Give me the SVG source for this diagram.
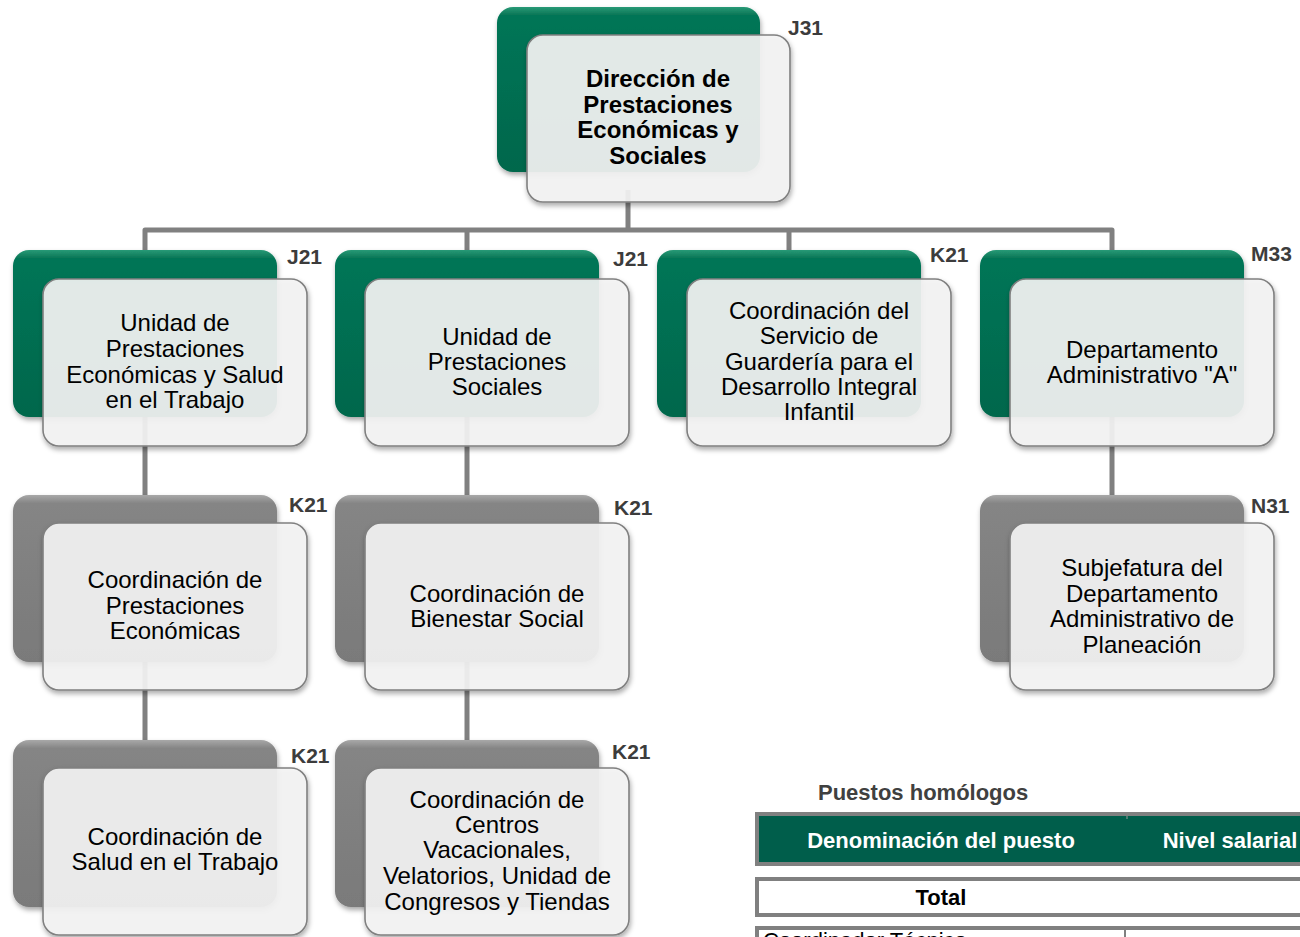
<svg xmlns="http://www.w3.org/2000/svg" width="1300" height="937" viewBox="0 0 1300 937">
<defs>
<linearGradient id="gGreen" x1="0" y1="0" x2="0" y2="1">
<stop offset="0" stop-color="#2a9a76"/>
<stop offset="0.05" stop-color="#067556"/>
<stop offset="1" stop-color="#00674c"/>
</linearGradient>
<linearGradient id="gGray" x1="0" y1="0" x2="0" y2="1">
<stop offset="0" stop-color="#a8a8a8"/>
<stop offset="0.05" stop-color="#858585"/>
<stop offset="1" stop-color="#7a7a7a"/>
</linearGradient>
<filter id="sh" x="-10%" y="-10%" width="125%" height="130%">
<feDropShadow dx="1" dy="3" stdDeviation="2.5" flood-color="#000" flood-opacity="0.35"/>
</filter>
<clipPath id="pageClip"><rect x="0" y="0" width="1300" height="937"/></clipPath>
</defs>
<style>
.back-g{fill:url(#gGreen);filter:url(#sh)}
.back-k{fill:url(#gGray);filter:url(#sh)}
.front{fill:#f4f4f4;fill-opacity:0.91;stroke:#808080;stroke-width:1.6;filter:url(#sh)}
.t{font-family:"Liberation Sans",Arial,sans-serif;font-size:24px;fill:#000;text-anchor:middle}
.tb{font-family:"Liberation Sans",Arial,sans-serif;font-size:24px;font-weight:bold;fill:#000;text-anchor:middle}
.lbl{font-family:"Liberation Sans",Arial,sans-serif;font-size:21px;font-weight:bold;fill:#3c3c3c}
.conn{stroke:#808080;stroke-width:5;fill:none;stroke-linejoin:round}
.th{font-family:"Liberation Sans",Arial,sans-serif;font-size:22px;font-weight:bold;fill:#fff;text-anchor:middle}
</style>
<rect width="1300" height="937" fill="#fff"/>
<g id="connectors">
<path class="conn" d="M628 190 V230 M145 250 V230 H1112 V250 M467 230 V250 M789 230 V250"/>
<path class="conn" d="M145 250 V740 M467 250 V740 M1112 250 V495"/>
</g>
<g id="n0">
<rect class="back-g" x="497" y="7" width="263" height="165" rx="16"/>
<rect class="front" x="527" y="35" width="263" height="167" rx="16"/>
<text class="tb" x="658" y="87">Dirección de</text>
<text class="tb" x="658" y="113">Prestaciones</text>
<text class="tb" x="658" y="138">Económicas y</text>
<text class="tb" x="658" y="164">Sociales</text>
<text class="lbl" x="788" y="35">J31</text>
</g>
<g id="n1">
<rect class="back-g" x="13" y="250" width="264" height="167" rx="16"/>
<rect class="front" x="43" y="279" width="264" height="167" rx="16"/>
<text class="t" x="175" y="331">Unidad de</text>
<text class="t" x="175" y="357">Prestaciones</text>
<text class="t" x="175" y="383">Económicas y Salud</text>
<text class="t" x="175" y="408">en el Trabajo</text>
<text class="lbl" x="287" y="264">J21</text>
</g>
<g id="n2">
<rect class="back-g" x="335" y="250" width="264" height="167" rx="16"/>
<rect class="front" x="365" y="279" width="264" height="167" rx="16"/>
<text class="t" x="497" y="345">Unidad de</text>
<text class="t" x="497" y="370">Prestaciones</text>
<text class="t" x="497" y="395">Sociales</text>
<text class="lbl" x="613" y="266">J21</text>
</g>
<g id="n3">
<rect class="back-g" x="657" y="250" width="264" height="167" rx="16"/>
<rect class="front" x="687" y="279" width="264" height="167" rx="16"/>
<text class="t" x="819" y="319">Coordinación del</text>
<text class="t" x="819" y="344">Servicio de</text>
<text class="t" x="819" y="370">Guardería para el</text>
<text class="t" x="819" y="395">Desarrollo Integral</text>
<text class="t" x="819" y="420">Infantil</text>
<text class="lbl" x="930" y="262">K21</text>
</g>
<g id="n4">
<rect class="back-g" x="980" y="250" width="264" height="167" rx="16"/>
<rect class="front" x="1010" y="279" width="264" height="167" rx="16"/>
<text class="t" x="1142" y="358">Departamento</text>
<text class="t" x="1142" y="383">Administrativo "A"</text>
<text class="lbl" x="1251" y="261">M33</text>
</g>
<g id="n5">
<rect class="back-k" x="13" y="495" width="264" height="167" rx="16"/>
<rect class="front" x="43" y="523" width="264" height="167" rx="16"/>
<text class="t" x="175" y="588">Coordinación de</text>
<text class="t" x="175" y="614">Prestaciones</text>
<text class="t" x="175" y="639">Económicas</text>
<text class="lbl" x="289" y="512">K21</text>
</g>
<g id="n6">
<rect class="back-k" x="335" y="495" width="264" height="167" rx="16"/>
<rect class="front" x="365" y="523" width="264" height="167" rx="16"/>
<text class="t" x="497" y="602">Coordinación de</text>
<text class="t" x="497" y="627">Bienestar Social</text>
<text class="lbl" x="614" y="515">K21</text>
</g>
<g id="n7">
<rect class="back-k" x="980" y="495" width="264" height="167" rx="16"/>
<rect class="front" x="1010" y="523" width="264" height="167" rx="16"/>
<text class="t" x="1142" y="576">Subjefatura del</text>
<text class="t" x="1142" y="602">Departamento</text>
<text class="t" x="1142" y="627">Administrativo de</text>
<text class="t" x="1142" y="653">Planeación</text>
<text class="lbl" x="1251" y="513">N31</text>
</g>
<g id="n8">
<rect class="back-k" x="13" y="740" width="264" height="167" rx="16"/>
<rect class="front" x="43" y="768" width="264" height="167" rx="16"/>
<text class="t" x="175" y="845">Coordinación de</text>
<text class="t" x="175" y="870">Salud en el Trabajo</text>
<text class="lbl" x="291" y="763">K21</text>
</g>
<g id="n9">
<rect class="back-k" x="335" y="740" width="264" height="167" rx="16"/>
<rect class="front" x="365" y="768" width="264" height="167" rx="16"/>
<text class="t" x="497" y="808">Coordinación de</text>
<text class="t" x="497" y="833">Centros</text>
<text class="t" x="497" y="858">Vacacionales,</text>
<text class="t" x="497" y="884">Velatorios, Unidad de</text>
<text class="t" x="497" y="910">Congresos y Tiendas</text>
<text class="lbl" x="612" y="759">K21</text>
</g>
<g id="table" clip-path="url(#pageClip)">
<text x="818" y="800" font-family="Liberation Sans, Arial, sans-serif" font-size="22" font-weight="bold" fill="#404040">Puestos homólogos</text>
<rect x="757" y="814" width="560" height="50" fill="#005e4b" stroke="#808080" stroke-width="4"/>
<line x1="1127" y1="816" x2="1127" y2="819" stroke="#9a9a9a" stroke-width="1"/>
<text class="th" x="941" y="848">Denominación del puesto</text>
<text class="th" x="1230" y="848">Nivel salarial</text>
<rect x="757" y="879" width="560" height="36" fill="#fff" stroke="#808080" stroke-width="4"/>
<text x="941" y="905" font-family="Liberation Sans, Arial, sans-serif" font-size="22" font-weight="bold" fill="#000" text-anchor="middle">Total</text>
<rect x="757" y="928" width="560" height="40" fill="#fff" stroke="#808080" stroke-width="4"/>
<line x1="1125" y1="930" x2="1125" y2="937" stroke="#000" stroke-width="1"/>
<text x="763" y="948" font-family="Liberation Sans, Arial, sans-serif" font-size="22" fill="#000">Coordinador Técnico</text>
</g>
</svg>
